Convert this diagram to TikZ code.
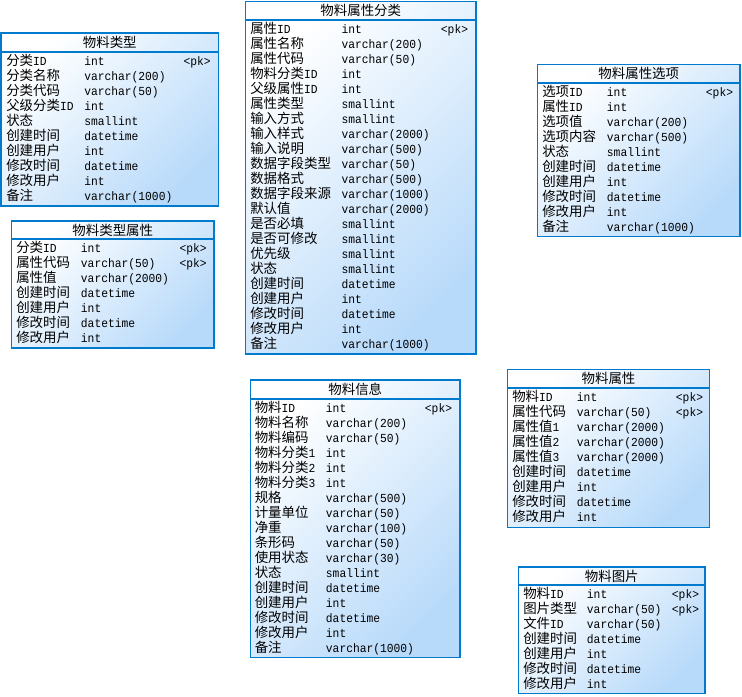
\documentclass[tikz,border=0pt]{standalone}
\usepackage{fontspec}
\setmainfont{Noto Sans CJK SC}
\newfontfamily\monof[FakeStretch=0.92]{Liberation Mono}
\newcommand\m[1]{{\monof\fontsize{9.2pt}{11pt}\selectfont #1}}
\definecolor{erblue}{RGB}{0,122,204}
\definecolor{erfill}{RGB}{184,218,250}
\tikzset{
  erline/.style={draw=erblue, line width=1.3pt},
  titletext/.style={font=\fontsize{10.1pt}{12pt}\selectfont, inner sep=0pt},
  fname/.style={font=\fontsize{10.1pt}{12pt}\selectfont, inner sep=0pt, anchor=base west},
  ftype/.style={font=\monof\fontsize{9.2pt}{11pt}\selectfont, inner sep=0pt, anchor=base west},
}
% id, left, top, right, bottom, separator, title
\newcommand\erbox[7]{%
  \shade[top color=white, bottom color=erfill, shading angle=45] (#2,#3) rectangle (#4,#5);
  \draw[erline] (#2,#3) rectangle (#4,#5);
  \draw[erline] (#2,#6) coordinate (#1-sl) -- (#4,#6) coordinate (#1-sr);
  \node[titletext] (#1-title) at ({(#2+#4)/2},{(#3+#6)/2}) {#7};
}
% id, name x, type x, first row y, list
\newcommand\erows[5]{%
  \foreach \nm/\ty [count=\i from 0] in {#5} {
    \node[fname] (#1-n\i) at (#2,{#4+15*\i+4.5}) {\nm};
    \node[ftype] (#1-t\i) at (#3,{#4+15*\i+4.5}) {\ty};
  }
}
% id, x, y
\newcommand\erpk[3]{\node[ftype] (#1) at (#2,{#3+4.5}) {<pk>};}
\begin{document}
\begin{tikzpicture}[x=0.75pt, y=-0.75pt]
\useasboundingbox (0,0) rectangle (742,696);

% 物料类型
\erbox{ta}{1}{33}{218.5}{206}{52}{物料类型}
\erows{ta}{6}{84}{61}{分类\m{ID}/int, 分类名称/varchar(200), 分类代码/varchar(50), 父级分类\m{ID}/int, 状态/smallint, 创建时间/datetime, 创建用户/int, 修改时间/datetime, 修改用户/int, 备注/varchar(1000)}
\erpk{ta-pk0}{183.3}{61}

% 物料类型属性
\erbox{tb}{11.5}{221}{214}{348}{239}{物料类型属性}
\erows{tb}{16}{80.7}{247.7}{分类\m{ID}/int, 属性代码/varchar(50), 属性值/varchar(2000), 创建时间/datetime, 创建用户/int, 修改时间/datetime, 修改用户/int}
\erpk{tb-pk0}{179.3}{247.7}
\erpk{tb-pk1}{179.3}{262.7}

% 物料属性分类
\erbox{tc}{245.5}{1.5}{476}{354}{20}{物料属性分类}
\erows{tc}{250}{341.3}{29}{属性\m{ID}/int, 属性名称/varchar(200), 属性代码/varchar(50), 物料分类\m{ID}/int, 父级属性\m{ID}/int, 属性类型/smallint, 输入方式/smallint, 输入样式/varchar(2000), 输入说明/varchar(500), 数据字段类型/varchar(50), 数据格式/varchar(500), 数据字段来源/varchar(1000), 默认值/varchar(2000), 是否必填/smallint, 是否可修改/smallint, 优先级/smallint, 状态/smallint, 创建时间/datetime, 创建用户/int, 修改时间/datetime, 修改用户/int, 备注/varchar(1000)}
\erpk{tc-pk0}{440.7}{29}

% 物料属性选项
\erbox{td}{537.5}{64.5}{740}{236.5}{83}{物料属性选项}
\erows{td}{542}{606.7}{92}{选项\m{ID}/int, 属性\m{ID}/int, 选项值/varchar(200), 选项内容/varchar(500), 状态/smallint, 创建时间/datetime, 创建用户/int, 修改时间/datetime, 修改用户/int, 备注/varchar(1000)}
\erpk{td-pk0}{705.7}{92}

% 物料信息
\erbox{te}{250.5}{380}{460}{657.5}{399}{物料信息}
\erows{te}{254.5}{325.7}{407.7}{物料\m{ID}/int, 物料名称/varchar(200), 物料编码/varchar(50), 物料分类\m{1}/int, 物料分类\m{2}/int, 物料分类\m{3}/int, 规格/varchar(500), 计量单位/varchar(50), 净重/varchar(100), 条形码/varchar(50), 使用状态/varchar(30), 状态/smallint, 创建时间/datetime, 创建用户/int, 修改时间/datetime, 修改用户/int, 备注/varchar(1000)}
\erpk{te-pk0}{424.7}{407.7}

% 物料属性
\erbox{tf}{507.5}{369.5}{709.5}{527.5}{388}{物料属性}
\erows{tf}{512}{576.7}{397}{物料\m{ID}/int, 属性代码/varchar(50), 属性值\m{1}/varchar(2000), 属性值\m{2}/varchar(2000), 属性值\m{3}/varchar(2000), 创建时间/datetime, 创建用户/int, 修改时间/datetime, 修改用户/int}
\erpk{tf-pk0}{675.7}{397}
\erpk{tf-pk1}{675.7}{412}

% 物料图片
\erbox{tg}{518.5}{567}{705}{693.5}{585.3}{物料图片}
\erows{tg}{523}{586.7}{594}{物料\m{ID}/int, 图片类型/varchar(50), 文件\m{ID}/varchar(50), 创建时间/datetime, 创建用户/int, 修改时间/datetime, 修改用户/int}
\erpk{tg-pk0}{671.7}{594}
\erpk{tg-pk1}{671.7}{609}
\end{tikzpicture}
\end{document}
